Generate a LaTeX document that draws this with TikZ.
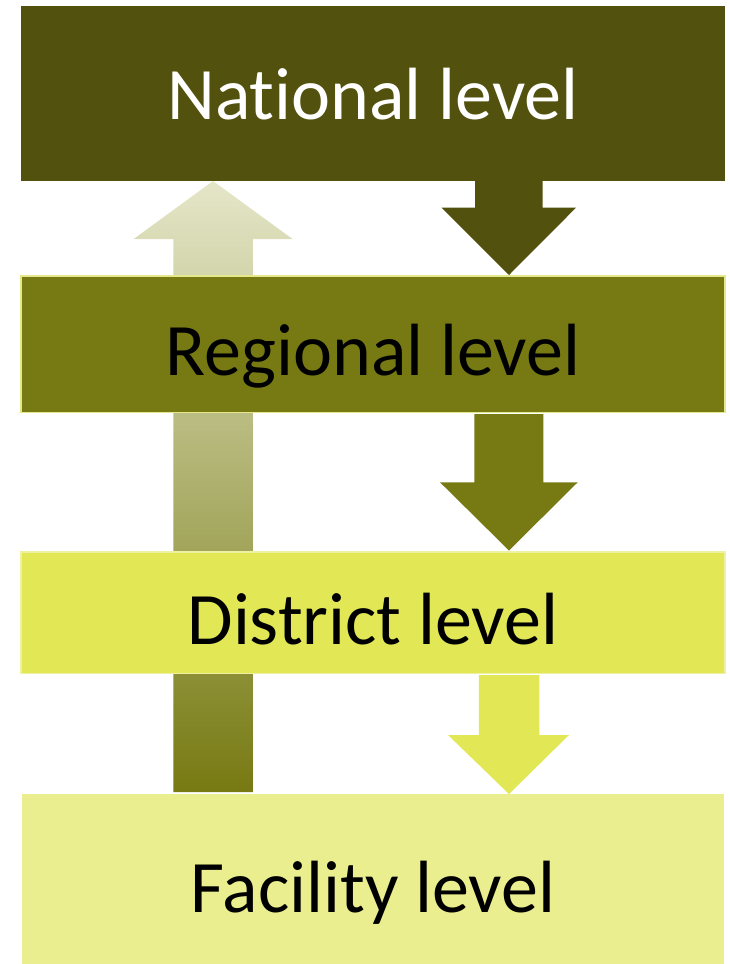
\documentclass[tikz,border=0pt]{standalone}
\usepackage{fontspec}
\setmainfont{Carlito}[RawFeature={-liga;-clig;-calt;-dlig;-rlig}]
\definecolor{natcol}{HTML}{52520E}
\definecolor{regcol}{HTML}{777A12}
\definecolor{discol}{HTML}{E1E755}
\definecolor{faccol}{HTML}{EAEE8E}
\definecolor{upTop}{HTML}{E4E6C8}
\definecolor{regborder}{HTML}{E4E88A}
\definecolor{disborder}{HTML}{EEF1A0}
\tikzset{
  levelbox/.style={rectangle, inner sep=0pt, minimum width=704pt},
  leveltext/.style={anchor=base, inner sep=0pt, font=\fontsize{74}{82}\selectfont},
}
\begin{document}
\begin{tikzpicture}[x=1pt,y=-1pt]
\useasboundingbox (0,0) rectangle (730,964);
% upward arrow (behind boxes)
\shade[top color=upTop, bottom color=regcol]
  (213,181) -- (292.5,239) -- (252.9,239) -- (252.9,792) -- (173.3,792) -- (173.3,239) -- (133.7,239) -- cycle;
% boxes
\node[levelbox, fill=natcol, minimum height=175pt] (nat) at (373,93.5) {};
\node[levelbox, fill=regcol, draw=regborder, line width=1.5pt, minimum height=136.5pt] (reg) at (373,344) {};
\node[levelbox, fill=discol, draw=disborder, line width=1.5pt, minimum height=121.5pt] (dis) at (373,612.5) {};
\node[levelbox, fill=faccol, minimum height=170pt, minimum width=702.5pt] (fac) at (373,879) {};
% labels
\node[leveltext, text=white] (natT) at (373,119.3) {National level};
\node[leveltext, text=black] (regT) at (373,375.7) {Regional level};
\node[leveltext, text=black] (disT) at (373,644) {District level};
\node[leveltext, text=black] (facT) at (373,912.3) {Facility level};
% downward arrows
\fill[natcol] (475,181) -- (542.6,181) -- (542.6,207.7) -- (576,207.7) -- (509,275) -- (441.5,207.7) -- (475,207.7) -- cycle;
\fill[regcol] (474.3,414) -- (543.3,414) -- (543.3,482.3) -- (577.7,482.3) -- (509,550.5) -- (440,482.3) -- (474.3,482.3) -- cycle;
\fill[discol] (478.8,675) -- (539.4,675) -- (539.4,735) -- (569,735) -- (509,794) -- (448,735) -- (478.8,735) -- cycle;
\end{tikzpicture}
\end{document}
